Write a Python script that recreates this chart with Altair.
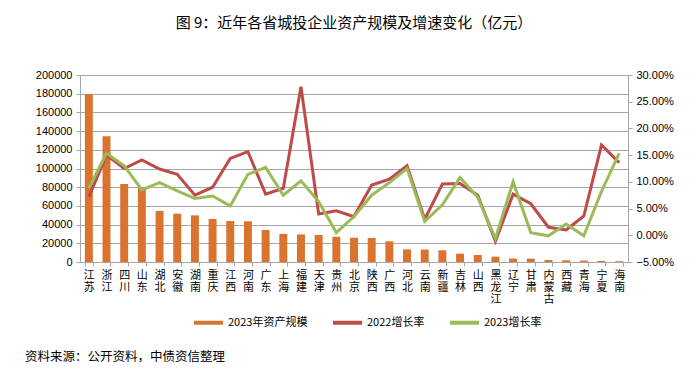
import altair as alt
import pandas as pd

provinces = ["江苏","浙江","四川","山东","湖北","安徽","湖南","重庆","江西","河南","广东","上海","福建","天津","贵州","北京",
             "陕西","广西","河北","云南","新疆","吉林","山西","黑龙江","辽宁","甘肃","内蒙古","西藏","青海","宁夏","海南"]
assets_2023 = [179400,134400,83400,79500,54500,51700,49900,46000,43800,43500,34200,30000,29500,28900,27000,26000,
               25700,22100,13500,13300,12500,8900,7500,5700,3700,3600,2100,1800,1500,1200,800]
growth_2022 = [7.2,15.0,12.5,14.1,12.4,11.4,7.5,9.0,14.4,15.65,7.7,8.8,27.8,4.0,4.6,3.5,
               9.4,10.5,13.0,3.0,9.6,9.7,7.5,-1.1,7.7,5.9,1.5,1.0,3.6,16.9,13.6]
growth_2023 = [8.8,15.35,13.0,8.5,9.85,8.3,6.9,7.35,5.5,11.4,12.7,7.5,10.2,6.3,0.5,3.5,
               7.5,9.85,12.5,2.6,5.7,10.8,7.1,-0.6,10.0,0.5,-0.1,2.1,-0.1,8.2,15.35]

series_names = ["2023年资产规模", "2022增长率", "2023增长率"]
series_colors = ["#D9732D", "#BE4B48", "#9BBB59"]
left_ticks = [0,20000,40000,60000,80000,100000,120000,140000,160000,180000,200000]
right_ticks = [-0.05,0,0.05,0.10,0.15,0.20,0.25,0.30]
title_text = "图 9：近年各省城投企业资产规模及增速变化（亿元）"
source_text = "资料来源：公开资料，中债资信整理"

df_bar = pd.DataFrame({"province": provinces, "value": assets_2023, "series": series_names[0]})
df_line = pd.concat([
    pd.DataFrame({"province": provinces, "rate": [g/100 for g in growth_2022], "series": series_names[1]}),
    pd.DataFrame({"province": provinces, "rate": [g/100 for g in growth_2023], "series": series_names[2]}),
])

FONT_CN = "Noto Sans CJK SC"
FONT_NUM = "Liberation Sans"
GRAY = "#A6A6A6"

color = alt.Color("series:N",
                  scale=alt.Scale(domain=series_names, range=series_colors),
                  legend=alt.Legend(
                      title=None, orient="none", legendX=112, legendY=231, direction="horizontal",
                      symbolType="stroke", symbolSize=841, symbolStrokeWidth=4, columnPadding=17,
                      labelOffset=3, labelFont=FONT_CN, labelFontSize=11, labelColor="#000000",
                      padding=0))

xenc = alt.X("province:N", sort=provinces, title=None,
             scale=alt.Scale(paddingInner=0.55, paddingOuter=0.275),
             axis=alt.Axis(labelAngle=0, labelExpr="split(datum.label, '')", labelFont=FONT_CN,
                           labelFontSize=11, labelLineHeight=12, labelColor="#000000",
                           labelBaseline="top", labelPadding=3,
                           tickBand="extent", tickSize=4, tickColor=GRAY,
                           domainColor=GRAY, grid=False))

bars = alt.Chart(df_bar).mark_bar().encode(
    x=xenc,
    y=alt.Y("value:Q", title=None,
            scale=alt.Scale(domain=[0, 200000], nice=False, zero=True),
            axis=alt.Axis(orient="left", values=left_ticks, format="d", labelFont=FONT_NUM,
                          labelFontSize=11, labelColor="#000000", tickSize=4, tickColor=GRAY,
                          domainColor=GRAY, gridColor=GRAY, labelPadding=4)),
    color=color,
)

lines = alt.Chart(df_line).mark_line(strokeWidth=3).encode(
    x=alt.X("province:N", sort=provinces),
    y=alt.Y("rate:Q", title=None,
            scale=alt.Scale(domain=[-0.05, 0.30], nice=False, zero=False),
            axis=alt.Axis(orient="right", values=right_ticks, format=".2%", labelFont=FONT_NUM,
                          labelFontSize=11, labelColor="#000000", tickSize=4, tickColor=GRAY,
                          domainColor=GRAY, grid=False, labelPadding=4)),
    color=alt.Color("series:N"),
)

source = alt.Chart(pd.DataFrame({"t": [source_text]})).mark_text(
    align="left", baseline="middle", font=FONT_CN, fontSize=12.5, color="#000000"
).encode(x=alt.value(-55), y=alt.value(282), text="t:N")

chart = alt.layer(bars, lines, source).resolve_scale(y="independent").properties(
    width=548, height=187,
    autosize=alt.AutoSizeParams(type="none"),
    padding={"left": 72, "top": 67, "right": 64, "bottom": 103},
    title=alt.TitleParams(title_text, font=FONT_CN, fontSize=15, fontWeight="normal",
                          color="#000000", anchor="middle", offset=38),
).configure_view(stroke=None)

chart.save("out.html", embed_options={"renderer": "svg", "actions": False})
